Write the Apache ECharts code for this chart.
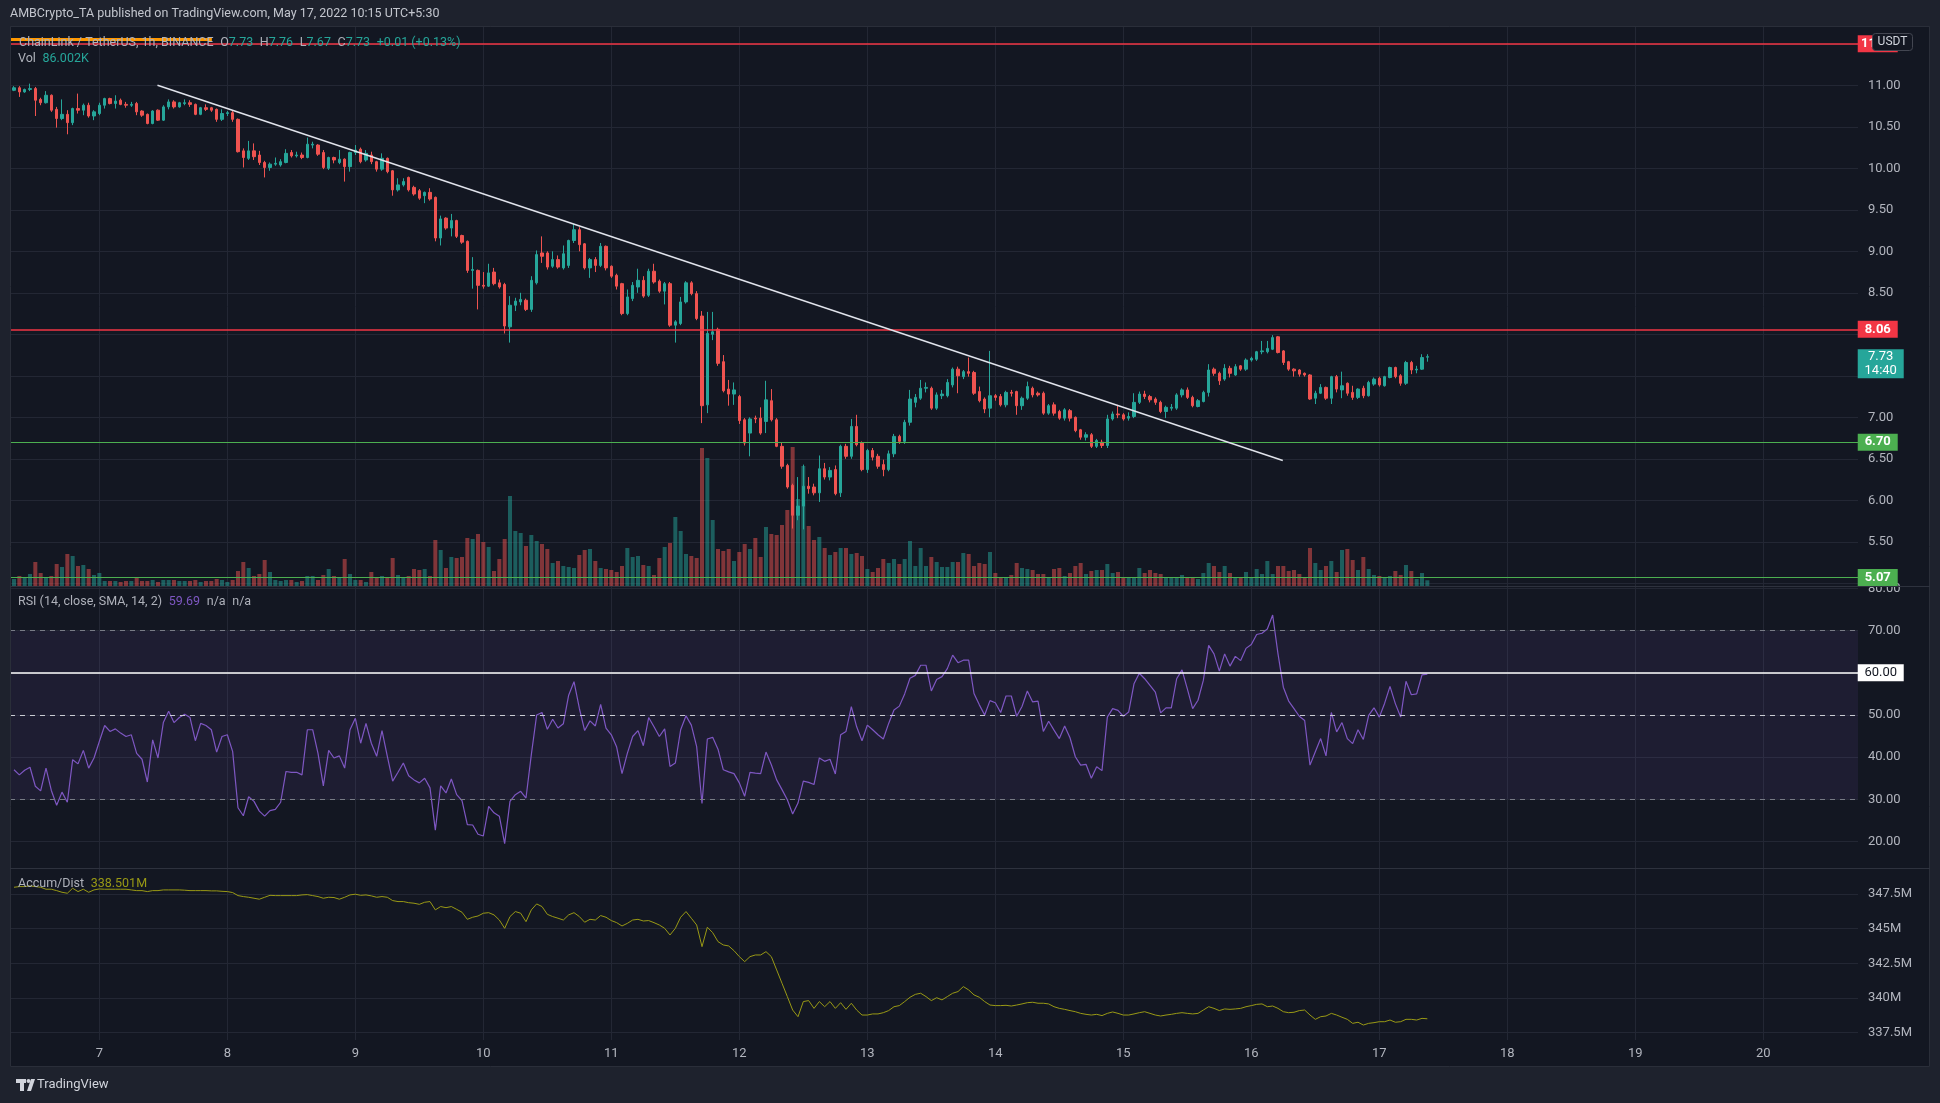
<!DOCTYPE html>
<html><head><meta charset="utf-8">
<script src="https://cdn.jsdelivr.net/npm/echarts@6/dist/echarts.min.js"></script>
<style>html,body{margin:0;padding:0;background:#1e222d;}#c{width:1940px;height:1103px;}</style>
</head><body><div id="c"></div>
<script>
// ---- DATA (hourly candles, index 0 = May 6 08:00, 265 = May 17 09:00) ----
// [open, close, low, high]
const candles = [
[10.94,10.97,10.93,10.99],[10.97,10.92,10.86,10.99],[10.92,10.95,10.91,10.96],[10.95,10.96,10.93,11.02],[10.96,10.82,10.63,10.98],
[10.83,10.79,10.76,10.85],[10.79,10.88,10.78,10.93],[10.88,10.70,10.68,10.89],[10.71,10.60,10.49,10.74],[10.60,10.65,10.58,10.83],
[10.65,10.55,10.41,10.70],[10.55,10.72,10.52,10.73],[10.72,10.70,10.66,10.90],[10.70,10.76,10.64,10.78],[10.76,10.63,10.61,10.79],
[10.63,10.68,10.58,10.70],[10.66,10.76,10.64,10.79],[10.76,10.84,10.72,10.85],[10.84,10.78,10.77,10.85],[10.78,10.81,10.72,10.88],
[10.82,10.77,10.76,10.84],[10.77,10.76,10.73,10.80],[10.76,10.77,10.74,10.80],[10.78,10.68,10.64,10.80],[10.69,10.64,10.62,10.70],
[10.65,10.54,10.53,10.66],[10.54,10.69,10.53,10.70],[10.70,10.58,10.57,10.71],[10.58,10.74,10.57,10.76],[10.74,10.80,10.71,10.83],
[10.80,10.74,10.72,10.82],[10.74,10.79,10.73,10.80],[10.78,10.79,10.76,10.83],[10.79,10.77,10.74,10.82],[10.77,10.65,10.64,10.78],
[10.65,10.73,10.64,10.74],[10.73,10.71,10.69,10.77],[10.73,10.70,10.68,10.74],[10.71,10.59,10.56,10.72],[10.59,10.66,10.57,10.71],
[10.66,10.67,10.63,10.69],[10.67,10.59,10.56,10.70],[10.59,10.20,10.19,10.60],[10.21,10.13,10.01,10.24],[10.12,10.21,10.10,10.33],
[10.21,10.14,10.10,10.30],[10.16,10.07,10.04,10.21],[10.07,10.01,9.89,10.09],[10.01,10.05,9.97,10.07],[10.05,10.06,10.03,10.13],
[10.04,10.08,10.02,10.11],[10.07,10.18,10.06,10.23],[10.19,10.15,10.13,10.22],[10.15,10.16,10.13,10.20],[10.16,10.13,10.11,10.19],
[10.13,10.29,10.12,10.37],[10.28,10.29,10.24,10.32],[10.28,10.17,10.15,10.29],[10.19,10.01,9.99,10.22],[10.00,10.13,9.98,10.14],
[10.13,10.10,10.06,10.14],[10.07,10.11,10.05,10.22],[10.11,10.02,9.84,10.12],[10.02,10.19,9.96,10.20],[10.19,10.22,10.16,10.28],
[10.23,10.08,10.06,10.25],[10.10,10.18,10.08,10.22],[10.16,10.08,10.05,10.20],[10.08,9.99,9.96,10.09],[9.99,10.12,9.97,10.18],
[10.12,9.96,9.94,10.13],[9.97,9.74,9.67,9.98],[9.74,9.80,9.72,9.88],[9.80,9.84,9.78,9.88],[9.89,9.74,9.72,9.90],
[9.77,9.69,9.67,9.79],[9.73,9.64,9.62,9.75],[9.67,9.71,9.58,9.72],[9.71,9.63,9.61,9.76],[9.65,9.16,9.12,9.66],
[9.16,9.39,9.07,9.43],[9.40,9.28,9.26,9.41],[9.28,9.37,9.18,9.45],[9.37,9.18,9.16,9.38],[9.19,9.11,9.09,9.20],
[9.12,8.77,8.74,9.13],[8.77,8.78,8.55,8.93],[8.77,8.59,8.30,8.78],[8.59,8.58,8.55,8.75],[8.58,8.74,8.57,8.85],
[8.75,8.61,8.59,8.80],[8.62,8.57,8.55,8.66],[8.60,8.10,8.01,8.62],[8.09,8.35,7.90,8.46],[8.35,8.40,8.28,8.44],
[8.39,8.42,8.35,8.50],[8.41,8.30,8.28,8.43],[8.30,8.65,8.27,8.70],[8.62,8.96,8.60,9.01],[8.98,8.94,8.86,9.18],
[8.98,8.81,8.78,9.00],[8.82,8.90,8.80,9.00],[8.90,8.81,8.79,8.95],[8.80,8.97,8.78,9.07],[8.83,9.13,8.80,9.14],
[9.13,9.26,9.10,9.33],[9.26,9.08,9.00,9.29],[9.09,8.80,8.78,9.10],[8.80,8.90,8.68,8.92],[8.90,8.83,8.75,8.93],
[8.83,9.06,8.81,9.10],[9.06,8.80,8.77,9.07],[8.82,8.70,8.68,8.83],[8.71,8.58,8.54,8.73],[8.61,8.25,8.23,8.62],
[8.25,8.45,8.23,8.54],[8.43,8.59,8.40,8.63],[8.57,8.65,8.50,8.79],[8.65,8.46,8.44,8.70],[8.47,8.76,8.45,8.79],
[8.76,8.63,8.61,8.85],[8.64,8.52,8.50,8.66],[8.52,8.61,8.36,8.63],[8.61,8.11,8.09,8.63],[8.11,8.15,7.90,8.17],
[8.13,8.39,8.11,8.45],[8.39,8.62,8.37,8.64],[8.62,8.49,8.47,8.64],[8.49,8.19,8.17,8.52],[8.22,7.14,6.93,8.28],
[7.15,8.01,7.05,8.27],[8.00,8.03,7.93,8.27],[8.06,7.65,7.62,8.08],[7.67,7.32,7.30,7.75],[7.34,7.28,7.14,7.45],
[7.28,7.33,7.15,7.42],[7.25,6.96,6.92,7.27],[6.97,6.69,6.66,6.99],[6.81,6.98,6.53,7.00],[6.99,6.98,6.93,7.02],
[6.99,6.81,6.79,7.12],[6.95,7.21,6.81,7.44],[7.20,6.97,6.95,7.34],[6.97,6.65,6.64,6.99],[6.65,6.41,6.38,6.70],
[6.42,6.16,6.14,6.44],[6.18,5.82,5.66,6.20],[5.82,5.93,5.76,6.28],[5.93,6.17,5.65,6.43],[6.17,6.14,6.08,6.28],
[6.16,6.09,6.06,6.20],[6.09,6.38,5.98,6.54],[6.38,6.28,6.25,6.45],[6.28,6.36,6.24,6.40],[6.37,6.08,6.06,6.42],
[6.09,6.65,6.04,6.67],[6.65,6.53,6.50,6.68],[6.53,6.89,6.50,6.98],[6.89,6.67,6.65,7.03],[6.69,6.37,6.35,6.71],
[6.37,6.60,6.33,6.62],[6.60,6.52,6.48,6.63],[6.53,6.41,6.38,6.56],[6.43,6.37,6.29,6.49],[6.37,6.56,6.35,6.60],
[6.56,6.77,6.52,6.80],[6.77,6.71,6.68,6.79],[6.71,6.94,6.68,6.97],[6.94,7.22,6.90,7.33],[7.18,7.24,7.12,7.28],
[7.23,7.35,7.21,7.45],[7.35,7.36,7.30,7.42],[7.35,7.11,7.09,7.37],[7.11,7.27,7.09,7.30],[7.26,7.28,7.22,7.33],
[7.26,7.42,7.24,7.46],[7.39,7.58,7.36,7.60],[7.58,7.50,7.29,7.61],[7.49,7.55,7.46,7.57],[7.55,7.53,7.49,7.72],
[7.54,7.29,7.27,7.56],[7.31,7.20,7.18,7.37],[7.22,7.10,7.05,7.24],[7.11,7.26,7.00,7.80],[7.26,7.24,7.20,7.28],
[7.25,7.15,7.13,7.28],[7.15,7.30,7.12,7.32],[7.30,7.29,7.25,7.33],[7.31,7.14,7.03,7.32],[7.14,7.23,7.09,7.25],
[7.23,7.37,7.21,7.43],[7.35,7.27,7.24,7.37],[7.29,7.27,7.25,7.31],[7.29,7.05,7.03,7.31],[7.05,7.14,7.03,7.16],
[7.15,7.05,7.02,7.18],[7.07,6.99,6.97,7.09],[6.99,7.09,6.96,7.11],[7.08,6.99,6.95,7.10],[7.00,6.84,6.82,7.01],
[6.85,6.76,6.73,6.86],[6.76,6.79,6.72,6.82],[6.79,6.65,6.63,6.81],[6.65,6.72,6.63,6.74],[6.70,6.66,6.63,6.73],
[6.66,6.98,6.63,7.03],[6.98,7.04,6.96,7.07],[7.04,7.03,6.99,7.15],[7.03,6.98,6.96,7.05],[6.99,7.01,6.96,7.06],
[7.01,7.18,6.99,7.29],[7.18,7.28,7.16,7.31],[7.28,7.25,7.22,7.32],[7.25,7.21,7.18,7.27],[7.22,7.18,7.15,7.24],
[7.18,7.07,7.05,7.20],[7.07,7.12,6.99,7.14],[7.11,7.12,7.08,7.16],[7.11,7.27,7.09,7.29],[7.27,7.33,7.24,7.35],
[7.33,7.24,7.22,7.36],[7.24,7.14,7.12,7.26],[7.13,7.20,7.12,7.22],[7.19,7.30,7.18,7.32],[7.30,7.57,7.25,7.64],
[7.58,7.53,7.50,7.60],[7.53,7.44,7.39,7.55],[7.46,7.59,7.44,7.64],[7.59,7.53,7.48,7.62],[7.51,7.61,7.50,7.64],
[7.62,7.58,7.56,7.63],[7.58,7.69,7.56,7.71],[7.69,7.71,7.67,7.73],[7.70,7.79,7.68,7.80],[7.79,7.80,7.76,7.92],
[7.79,7.83,7.77,7.92],[7.82,7.96,7.81,7.99],[7.97,7.78,7.77,7.98],[7.80,7.66,7.63,7.81],[7.67,7.58,7.56,7.68],
[7.58,7.56,7.49,7.59],[7.57,7.52,7.49,7.58],[7.53,7.51,7.49,7.54],[7.51,7.22,7.21,7.52],[7.23,7.29,7.16,7.32],
[7.29,7.36,7.28,7.40],[7.36,7.23,7.21,7.37],[7.23,7.49,7.16,7.50],[7.49,7.34,7.30,7.51],[7.33,7.38,7.23,7.55],
[7.41,7.29,7.26,7.42],[7.30,7.24,7.21,7.38],[7.24,7.34,7.22,7.35],[7.35,7.26,7.23,7.38],[7.26,7.42,7.25,7.44],
[7.40,7.46,7.38,7.48],[7.47,7.39,7.37,7.49],[7.38,7.49,7.37,7.50],[7.48,7.60,7.47,7.61],[7.60,7.49,7.47,7.61],
[7.50,7.41,7.38,7.52],[7.41,7.66,7.39,7.68],[7.66,7.57,7.52,7.68],[7.57,7.58,7.53,7.62],[7.58,7.72,7.57,7.76],
[7.725,7.73,7.67,7.76]
];
// volume, thousands of LINK
const volumeK = [
105,150,120,180,360,195,120,150,330,285, 480,450,300,315,255,165,195,75,75,75,
60,75,75,120,75,75,90,60,90,90, 90,75,75,75,90,60,75,75,105,90,
60,90,225,360,270,150,180,390,210,90, 75,90,90,60,75,150,150,90,165,255,
150,120,405,180,90,90,60,210,135,150, 120,420,165,120,150,255,240,255,150,690,
540,270,435,420,435,720,705,780,660,585, 225,405,705,1350,825,795,600,765,675,630,
555,345,375,300,285,270,465,540,555,375, 270,255,240,210,300,570,435,450,315,300,
165,420,585,645,1035,825,480,450,420,2070, 1920,990,555,525,555,375,510,630,555,720,
435,885,780,765,915,1140,2085,1305,1800,900, 690,735,570,465,510,570,570,480,495,450,
255,210,270,405,345,405,330,405,675,300, 570,300,435,360,285,285,360,360,495,480,
300,345,330,510,195,135,120,165,345,270, 255,240,180,180,135,255,270,150,195,300,
345,180,225,240,240,330,195,210,135,135, 135,270,195,240,195,180,135,120,120,165,
135,135,105,195,345,300,210,300,195,135, 120,210,135,255,180,375,180,300,300,225,
240,180,120,570,345,240,300,375,210,540, 555,390,240,435,255,165,150,120,150,225,
165,315,225,105,195,86
];
// RSI (14)
const rsi = [
37.0,35.8,36.9,37.6,33.1,32.0,37.4,32.1,28.6,31.7, 29.3,39.4,38.4,41.6,37.4,39.8,43.7,47.5,46.1,46.7,
45.7,44.9,45.3,40.9,39.5,34.1,44.1,39.8,48.2,50.9, 48.2,49.4,50.2,49.4,43.9,48.0,47.5,46.5,41.2,44.9,
45.3,41.3,28.0,26.1,30.6,29.5,27.2,26.0,27.3,27.6, 29.3,36.6,36.4,36.4,35.8,46.5,46.5,40.9,33.2,41.6,
39.8,40.3,37.4,46.5,49.2,43.3,48.0,43.3,40.2,46.3, 40.2,34.3,36.4,38.6,35.6,34.6,33.9,35.0,32.7,22.7,
33.2,31.5,34.8,31.1,29.7,24.0,23.9,21.7,21.3,28.3, 26.8,26.0,19.5,29.5,31.1,31.9,30.3,40.6,50.0,50.6,
46.6,49.0,46.9,47.9,54.7,57.9,51.6,46.3,48.6,47.4, 52.5,46.9,45.3,42.4,36.1,40.9,44.9,46.3,42.7,49.4,
47.2,44.9,46.7,37.8,38.6,46.5,49.8,47.6,42.5,29.0, 44.3,44.7,41.9,37.0,36.5,36.1,33.9,30.7,36.4,36.2,
36.1,41.2,38.2,34.6,32.3,29.9,26.5,29.1,34.3,34.0, 33.5,39.8,39.0,39.5,36.0,45.3,46.1,52.0,47.2,43.9,
47.6,46.5,45.3,44.3,48.0,51.2,52.1,55.0,58.7,59.4, 61.8,61.8,55.7,58.4,59.1,61.0,64.2,62.4,63.0,63.0,
55.1,52.4,50.0,53.4,52.9,50.6,54.5,54.5,49.7,52.0, 55.7,53.1,53.3,46.1,48.5,46.4,44.4,47.4,44.6,40.1,
38.1,38.3,35.0,37.7,36.8,49.5,51.5,51.1,49.7,50.7, 57.4,59.9,58.6,57.0,55.4,50.5,51.7,51.7,58.6,60.7,
56.2,51.5,53.5,58.2,66.5,64.5,60.4,64.5,61.6,63.9, 62.9,65.8,66.7,69.1,69.4,70.4,73.7,64.5,56.6,53.3,
51.5,49.7,48.7,38.1,41.3,44.4,40.3,50.6,46.0,48.2, 44.4,43.2,46.5,44.2,49.9,51.7,49.5,52.8,56.8,52.7,
49.5,58.0,54.8,55.0,59.5,59.69
];
// Accumulation / Distribution, millions
const accDistM = [
347.98,348.03,348.03,348.08,348.03,347.98,347.84,347.84,347.74,347.62,
347.55,347.91,347.67,347.84,347.62,347.79,347.86,347.84,347.84,347.84,
347.84,347.84,347.79,347.74,347.74,347.67,347.74,347.74,347.79,347.79,
347.79,347.79,347.77,347.74,347.74,347.74,347.74,347.72,347.72,347.69,
347.67,347.60,347.38,347.31,347.26,347.19,347.12,347.26,347.40,347.38,
347.38,347.38,347.38,347.38,347.43,347.45,347.38,347.31,347.19,347.26,
347.24,347.12,347.26,347.43,347.48,347.40,347.43,347.36,347.26,347.31,
347.26,347.02,346.95,346.95,346.87,346.83,346.75,346.90,346.95,346.35,
346.59,346.51,346.59,346.39,346.18,345.67,345.82,345.91,346.11,346.15,
345.99,345.62,345.02,345.87,346.23,346.11,345.50,346.35,346.78,346.59,
346.03,345.87,345.75,345.62,345.99,346.15,345.87,345.46,345.67,345.62,
345.94,345.82,345.58,345.43,345.19,345.38,345.62,345.67,345.55,345.58,
345.43,345.26,345.02,344.54,345.02,345.82,346.23,345.75,345.26,343.70,
345.10,344.71,344.06,343.82,343.75,343.41,342.98,342.62,342.98,343.10,
343.10,343.34,342.98,342.02,341.06,340.10,339.13,338.65,339.74,339.81,
339.25,339.74,339.37,339.74,339.25,339.66,339.18,339.62,339.13,338.77,
338.77,338.85,338.85,338.94,339.09,339.37,339.45,339.74,340.05,340.26,
340.34,340.10,339.81,340.02,339.86,340.10,340.34,340.46,340.82,340.58,
340.22,340.05,339.74,339.49,339.45,339.45,339.47,339.42,339.49,339.57,
339.66,339.69,339.62,339.62,339.57,339.37,339.25,339.18,339.09,339.01,
338.89,338.82,338.77,338.82,338.73,338.89,338.99,338.89,338.77,338.77,
338.85,338.94,339.01,338.89,338.77,338.70,338.77,338.82,338.89,338.94,
338.89,338.85,338.89,339.13,339.37,339.25,339.09,339.21,339.18,339.21,
339.25,339.37,339.45,339.54,339.57,339.37,339.42,339.25,339.01,338.94,
338.97,339.09,339.13,338.77,338.46,338.65,338.70,338.89,338.77,338.61,
338.46,338.17,338.25,338.05,338.17,338.22,338.29,338.29,338.41,338.25,
338.29,338.46,338.46,338.41,338.53,338.50
];
// time axis: day boundaries (candle index of 00:00) and labels
const dayTicks = [16,40,64,88,112,136,160,184,208,232,256,280,304,328];
const dayLabels = ['7','8','9','10','11','12','13','14','15','16','17','18','19','20'];
// tick values
const priceTicks = [5,5.5,6,6.5,7,7.5,8,8.5,9,9.5,10,10.5,11,11.5];
const priceLabelTicks = [5.5,6,6.5,7,8.5,9,9.5,10,10.5,11];
const rsiTicks = [20,30,40,50,60,70,80];
const adTicks = [337.5,340,342.5,345,347.5];
// drawings
const resistanceLevels = [11.50, 8.06];
const supportLevels = [6.70, 5.07];
const trendLine = [[26.9, 11.00], [237.9, 6.48]];
const topSegment = [[-0.75, 11.555], [37.1, 11.555]];
const lastPrice = 7.73, countdown = '14:40';
const rsiLevel = 60;

// ---- STYLE ----
const UP = '#26a69a', DOWN = '#ef5350', RED = '#f23645', GREEN = '#4caf50';
const GRIDC = '#232734', TXT = '#b2b5be', PANEL = '#131722', OUTER = '#1e222d';
const LEG = '#aeb1ba';
const FONT = 'Roboto';
const X_MIN = -0.75, X_MAX = 345.75, X_EDGE = 345.7;

const isUp = i => candles[i][1] >= candles[i][0];

function xAxisCfg(k) {
  return {
    type: 'value', gridIndex: k, min: X_MIN, max: X_MAX,
    axisLine: {show: false},
    axisTick: {show: false, customValues: dayTicks},
    splitLine: {show: true, lineStyle: {color: GRIDC, width: 1}},
    axisLabel: {
      show: k === 2, customValues: dayTicks, color: TXT, fontSize: 13, fontFamily: FONT, margin: 7,
      formatter: v => dayLabels[dayTicks.indexOf(v)] || ''
    }
  };
}
function yAxisCfg(k, min, max, ticks, labels, fmt) {
  return {
    type: 'value', gridIndex: k, position: 'right', min: min, max: max,
    axisLine: {show: false},
    axisTick: {show: false, customValues: ticks},
    splitLine: {show: true, lineStyle: {color: GRIDC, width: 1}},
    axisLabel: {customValues: labels, color: TXT, fontSize: 13, fontFamily: FONT, margin: 10, formatter: fmt}
  };
}
function priceTag(value, text, color, w, textColor) {
  return {
    coord: [X_EDGE, value], symbol: 'rect', symbolSize: [w, 17], symbolOffset: [w / 2, 0],
    itemStyle: {color: color},
    label: {show: true, position: 'inside', formatter: text, color: textColor || '#fff',
      fontSize: 13, fontWeight: 'bold', fontFamily: FONT}
  };
}

const option = {
  animation: false,
  backgroundColor: PANEL,
  textStyle: {fontFamily: FONT},
  grid: [
    {left: 10, right: 82, top: 27, height: 559},
    {left: 10, right: 82, top: 586, height: 282},
    {left: 10, right: 82, top: 868, height: 172}
  ],
  xAxis: [xAxisCfg(0), xAxisCfg(1), xAxisCfg(2)],
  yAxis: [
    yAxisCfg(0, 4.9675, 11.7024, priceTicks, priceLabelTicks, v => v.toFixed(2)),
    {type: 'value', gridIndex: 0, min: 0, max: 8385, show: false},
    yAxisCfg(1, 13.7, 80.6, rsiTicks, rsiTicks, v => v.toFixed(2)),
    yAxisCfg(2, 336.97, 349.37, adTicks, adTicks, v => (Number.isInteger(v) ? v : v.toFixed(1)) + 'M')
  ],
  series: [
    {
      type: 'bar', name: 'Vol', xAxisIndex: 0, yAxisIndex: 1, barWidth: 4, silent: true, z: 1,
      data: volumeK.map((v, i) => ({value: [i, v], itemStyle: {color: isUp(i) ? 'rgba(38,166,154,0.5)' : 'rgba(239,83,80,0.5)'}}))
    },
    {
      type: 'candlestick', name: 'LINKUSDT', xAxisIndex: 0, yAxisIndex: 0, barWidth: 2.7, silent: true, z: 3,
      encode: {x: 0, y: [1, 2, 3, 4]},
      data: candles.map((c, i) => [i, c[0], c[1], c[2], c[3]]),
      itemStyle: {color: UP, color0: DOWN, borderColor: UP, borderColor0: DOWN, borderWidth: 1},
      markLine: {
        silent: true, symbol: ['none', 'none'], label: {show: false}, animation: false,
        data: [
          {yAxis: resistanceLevels[0], lineStyle: {color: RED, width: 1.5, type: 'solid'}},
          {yAxis: resistanceLevels[1], lineStyle: {color: RED, width: 1.5, type: 'solid'}},
          {yAxis: supportLevels[0], lineStyle: {color: GREEN, width: 1.2, type: 'solid'}},
          {yAxis: supportLevels[1], lineStyle: {color: GREEN, width: 1.2, type: 'solid'}},
          [{coord: trendLine[0], lineStyle: {color: '#e0e3eb', width: 1.5, type: 'solid'}}, {coord: trendLine[1]}],
          [{coord: topSegment[0], lineStyle: {color: '#ff9800', width: 3, type: 'solid'}}, {coord: topSegment[1]}]
        ]
      },
      markPoint: {
        silent: true, animation: false,
        data: [
          priceTag(resistanceLevels[0], resistanceLevels[0].toFixed(2), RED, 40),
          priceTag(resistanceLevels[1], resistanceLevels[1].toFixed(2), RED, 40),
          priceTag(supportLevels[0], supportLevels[0].toFixed(2), GREEN, 40),
          priceTag(supportLevels[1], supportLevels[1].toFixed(2), GREEN, 40),
          {
            coord: [X_EDGE, lastPrice], symbol: 'rect', symbolSize: [46, 29], symbolOffset: [23, 7],
            itemStyle: {color: UP},
            label: {show: true, position: 'inside', formatter: lastPrice.toFixed(2) + '\n' + countdown,
              color: '#fff', fontSize: 13, lineHeight: 14, fontFamily: FONT}
          }
        ]
      }
    },
    {
      type: 'line', name: 'RSI', xAxisIndex: 1, yAxisIndex: 2, symbol: 'none', silent: true, z: 3,
      data: rsi.map((v, i) => [i, v]),
      lineStyle: {color: '#7e57c2', width: 1.2},
      markArea: {silent: true, itemStyle: {color: 'rgba(126,87,194,0.1)'}, data: [[{yAxis: 30}, {yAxis: 70}]]},
      markLine: {
        silent: true, symbol: ['none', 'none'], label: {show: false}, animation: false,
        data: [
          {yAxis: 70, lineStyle: {color: '#787b86', width: 1, type: [5, 5]}},
          {yAxis: 50, lineStyle: {color: '#c9cbd2', width: 1, type: [5, 5]}},
          {yAxis: 30, lineStyle: {color: '#787b86', width: 1, type: [5, 5]}},
          {yAxis: rsiLevel, lineStyle: {color: '#ffffff', width: 1.5, type: 'solid'}}
        ]
      },
      markPoint: {
        silent: true, animation: false,
        data: [(function () { const t = priceTag(rsiLevel, rsiLevel.toFixed(2), '#ffffff', 46, '#131722'); t.label.fontWeight = 'normal'; return t; })()]
      }
    },
    {
      type: 'line', name: 'Accum/Dist', xAxisIndex: 2, yAxisIndex: 3, symbol: 'none', silent: true, z: 3,
      data: accDistM.map((v, i) => [i, v]),
      lineStyle: {color: '#999915', width: 1}
    }
  ],
  graphic: [
    {type: 'rect', z: 100, shape: {x: 0, y: 0, width: 1940, height: 27}, style: {fill: OUTER}},
    {type: 'rect', z: 100, shape: {x: 0, y: 0, width: 10, height: 1103}, style: {fill: OUTER}},
    {type: 'rect', z: 100, shape: {x: 1930, y: 0, width: 10, height: 1103}, style: {fill: OUTER}},
    {type: 'rect', z: 100, shape: {x: 0, y: 1067, width: 1940, height: 36}, style: {fill: OUTER}},
    {type: 'rect', z: 101, shape: {x: 10.5, y: 26.5, width: 1919, height: 1040}, style: {fill: null, stroke: '#2a2e39', lineWidth: 1}},
    {type: 'line', z: 101, shape: {x1: 10, y1: 586.5, x2: 1930, y2: 586.5}, style: {stroke: '#2e323e', lineWidth: 1}},
    {type: 'line', z: 101, shape: {x1: 10, y1: 868.5, x2: 1930, y2: 868.5}, style: {stroke: '#2e323e', lineWidth: 1}},
    {type: 'text', z: 102, x: 10, y: 14, style: {text: 'AMBCrypto_TA published on TradingView.com, May 17, 2022 10:15 UTC+5:30', fill: '#c3c6ce', font: '12.5px ' + FONT, verticalAlign: 'middle'}},
    {type: 'text', z: 102, x: 19, y: 42.5, style: {
      text: '{t|ChainLink / TetherUS, 1h, BINANCE}  {l|O}{v|7.73}  {l|H}{v|7.76}  {l|L}{v|7.67}  {l|C}{v|7.73}  {v|+0.01 (+0.13%)}',
      verticalAlign: 'middle',
      rich: {t: {fill: LEG, font: '12.5px ' + FONT}, l: {fill: LEG, font: '12.5px ' + FONT}, v: {fill: UP, font: '12.5px ' + FONT}}
    }},
    {type: 'text', z: 102, x: 18, y: 59, style: {
      text: '{l|Vol}  {v|86.002K}', verticalAlign: 'middle',
      rich: {l: {fill: LEG, font: '12.5px ' + FONT}, v: {fill: UP, font: '12.5px ' + FONT}}
    }},
    {type: 'text', z: 102, x: 18, y: 602, style: {
      text: '{l|RSI (14, close, SMA, 14, 2)}  {p|59.69}  {l|n/a}  {l|n/a}', verticalAlign: 'middle',
      rich: {l: {fill: LEG, font: '12.5px ' + FONT}, p: {fill: '#7e57c2', font: '12.5px ' + FONT}}
    }},
    {type: 'text', z: 102, x: 18, y: 884, style: {
      text: '{l|Accum/Dist}  {a|338.501M}', verticalAlign: 'middle',
      rich: {l: {fill: LEG, font: '12.5px ' + FONT}, a: {fill: '#999915', font: '12.5px ' + FONT}}
    }},
    {type: 'rect', z: 103, shape: {x: 1872.5, y: 33.5, width: 40, height: 17, r: 3}, style: {fill: PANEL, stroke: '#434651', lineWidth: 1}},
    {type: 'text', z: 104, x: 1892.5, y: 42, style: {text: 'USDT', fill: '#d1d4dc', font: '12px ' + FONT, align: 'center', verticalAlign: 'middle'}},
    // footer logo
    {type: 'rect', z: 102, shape: {x: 16, y: 1079, width: 10, height: 4}, style: {fill: '#d1d4dc'}},
    {type: 'rect', z: 102, shape: {x: 20, y: 1079, width: 4, height: 12}, style: {fill: '#d1d4dc'}},
    {type: 'circle', z: 102, shape: {cx: 28.5, cy: 1081, r: 2}, style: {fill: '#d1d4dc'}},
    {type: 'polygon', z: 102, shape: {points: [[27, 1091], [31, 1079], [35, 1079], [31, 1091]]}, style: {fill: '#d1d4dc'}},
    {type: 'text', z: 102, x: 37, y: 1085, style: {text: 'TradingView', fill: '#d1d4dc', font: '13px ' + FONT, verticalAlign: 'middle'}}
  ]
};
const chart = echarts.init(document.getElementById('c'), null, {renderer: 'canvas', width: 1940, height: 1103});
chart.setOption(option);
</script></body></html>
